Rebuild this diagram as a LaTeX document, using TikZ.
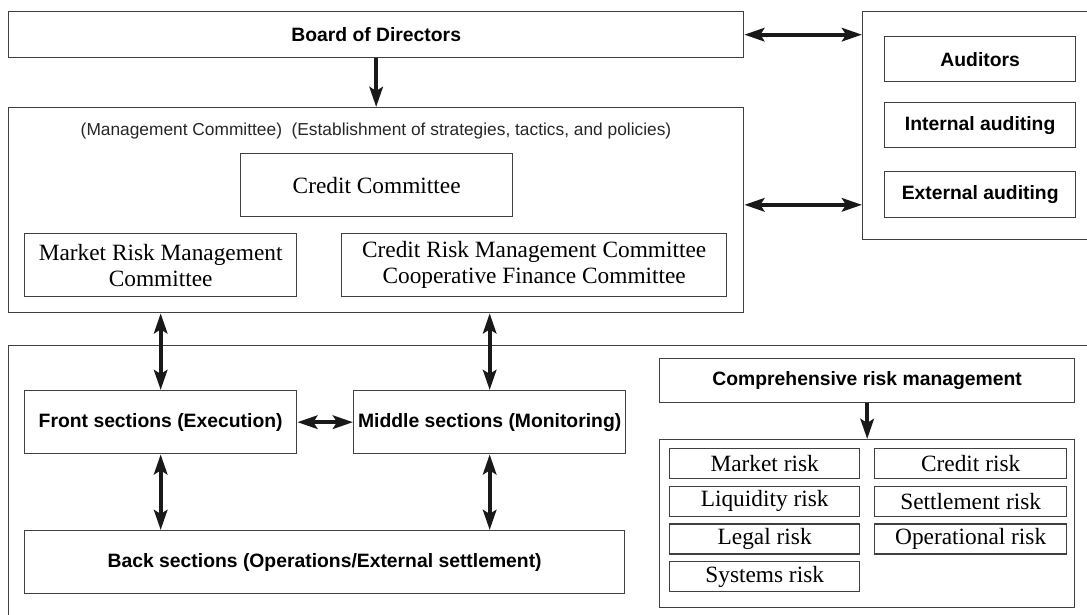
\documentclass[tikz,border=0pt]{standalone}
\usepackage{fontspec}
\setmainfont{Liberation Serif}
\setsansfont{Liberation Sans}
\usetikzlibrary{arrows.meta}

\begin{document}
\begin{tikzpicture}[x=0.75pt, y=-0.75pt,
        box/.style={draw=black!75, line width=1pt, rectangle, inner sep=0pt, align=center, anchor=north west},
        wh/.style 2 args={minimum width=#1*0.75pt, minimum height=#2*0.75pt},
        sbox/.style={box, font=\sffamily\bfseries\fontsize{14.5}{17}\selectfont},
        rbox/.style={box, font=\fontsize{17.5}{19.5}\selectfont},
        tip/.style={Stealth[length=15pt, width=10pt, inset=3pt]},
        link/.style={line width=3.2pt, black!90, {Stealth[length=15pt, width=10pt, inset=3pt]}-{Stealth[length=15pt, width=10pt, inset=3pt]}},
        down/.style={line width=3.2pt, black!90, -{Stealth[length=15pt, width=10pt, inset=3pt]}}]
        \clip (0,0) rectangle (1087,614);

        % top row
        \node[sbox, wh={735}{46}] (board) at (8,11) {Board of Directors};
        \node[box, wh={260}{228}] (aud) at (862,11) {};
        \node[sbox, wh={191}{45}] (auditors) at (884,36) {Auditors};
        \node[sbox, wh={191}{45}] (internal) at (884,102) {Internal auditing};
        \node[sbox, wh={191}{46}] (external) at (884,171) {External auditing};

        % committees
        \node[box, wh={735}{205}] (mgmt) at (8,107) {};
        \node[font=\sffamily\fontsize{13}{15}\selectfont, black!85] (mgmthead) at (376,131)
            {(Management Committee)\ \ (Establishment of strategies, tactics, and policies)};
        \node[rbox, wh={272}{63}] (credit) at (240,153) {Credit Committee};
        \node[rbox, wh={272}{63}] (market) at (24,233) {Market Risk Management\\Committee};
        \node[rbox, wh={385}{63}] (coop) at (341,233) {Credit Risk Management Committee\\Cooperative Finance Committee};

        % sections
        \node[box, wh={1100}{300}] (ops) at (8,345) {};
        \node[sbox, wh={272}{63}] (front) at (24,390) {Front sections (Execution)};
        \node[sbox, wh={272}{63}] (middle) at (353,390) {Middle sections (Monitoring)};
        \node[sbox, wh={600}{63}] (back) at (24,530) {Back sections (Operations/External settlement)};

        % risk categories
        \node[sbox, wh={415}{44}] (overall) at (659,358) {Comprehensive risk management};
        \node[box, wh={415}{168}] (risks) at (659,439) {};
        \foreach \txt [count=\i from 0] in {Market risk, Liquidity risk, Legal risk, Systems risk}
            \node[rbox, wh={190}{30}] (left\i) at (669,448+37.7*\i) {\txt};
        \foreach \txt [count=\i from 0] in {Credit risk, Settlement risk, Operational risk}
            \node[rbox, wh={192}{30}] (right\i) at (874,448+37.7*\i) {\txt};

        % arrows
        \coordinate (mgmtR) at ([yshift=4pt]mgmt.east);
        \draw[down] (board.south) -- (mgmt.north);
        \draw[link] (board.east) -- (board.east -| aud.west);
        \draw[link] (mgmtR) -- (mgmtR -| aud.west);
        \draw[link] (mgmt.south -| front.north) -- (front.north);
        \draw[link] (mgmt.south -| middle.north) -- (middle.north);
        \draw[link] (front.east) -- (middle.west);
        \draw[link] (front.south) -- (front.south |- back.north);
        \draw[link] (middle.south) -- (middle.south |- back.north);
        \draw[down] (overall.south) -- (risks.north);
\end{tikzpicture}
\end{document}
